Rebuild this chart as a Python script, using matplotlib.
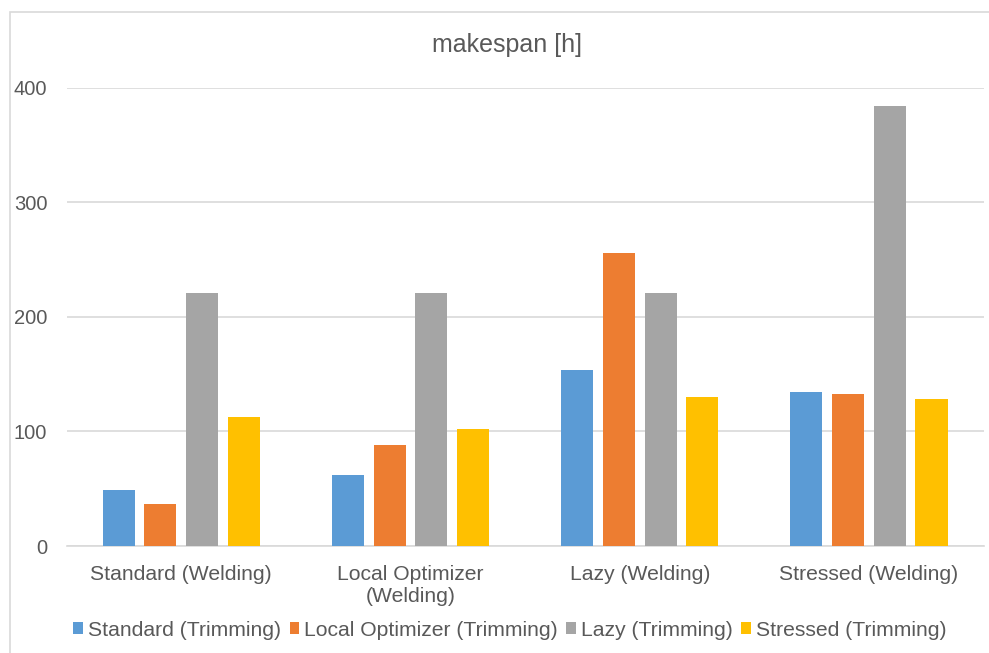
import matplotlib
matplotlib.use("Agg")
import matplotlib.pyplot as plt
from matplotlib.patches import Rectangle
import numpy as np

categories = ["Standard (Welding)", "Local Optimizer\n(Welding)", "Lazy (Welding)", "Stressed (Welding)"]
series_names = ["Standard (Trimming)", "Local Optimizer (Trimming)", "Lazy (Trimming)", "Stressed (Trimming)"]
standard_trim = [49, 62, 154, 134]
local_opt_trim = [37, 88, 256, 133]
lazy_trim = [221, 221, 221, 384]
stressed_trim = [113, 102, 130, 128]
colors = ["#5B9BD5", "#ED7D31", "#A5A5A5", "#FFC000"]
yticks = [0, 100, 200, 300, 400]

plt.rcParams['font.family'] = ['Liberation Sans', 'DejaVu Sans']
W, H = 989, 653
fig = plt.figure(figsize=(W/100, H/100), dpi=100)
fig.patch.set_facecolor("white")

# chart border
fig.patches.append(Rectangle((10/W, -0.1), 1.2, 1 - 12/H + 0.1, transform=fig.transFigure,
                             fill=False, edgecolor="#D9D9D9", linewidth=1.2, zorder=0))

left, right = 66.7/W, 983.5/W
bottom, top = 1 - 546/H, 1 - 87.7/H
ax = fig.add_axes([left, bottom, right-left, top-bottom])
ax.set_facecolor("none")

x = np.arange(len(categories)) + 0.5
width = 0.14
step = 0.182
data = [standard_trim, local_opt_trim, lazy_trim, stressed_trim]
for i, (vals, name, c) in enumerate(zip(data, series_names, colors)):
    ax.bar(x + (i - 1.5)*step, vals, width=width, color=c, label=name, zorder=3)

ax.set_xlim(0, len(categories))
ax.set_ylim(0, 400)
ax.set_yticks(yticks)
ax.set_yticklabels([str(t) for t in yticks])
ax.set_xticks(x)
ax.set_xticklabels(categories, linespacing=1.2)
ax.tick_params(axis='y', length=0, labelsize=14.5, colors="#595959", pad=14)
ax.tick_params(axis='x', length=0, labelsize=15.2, colors="#595959", pad=14)
ax.grid(axis='y', color="#D9D9D9", linewidth=1.2, zorder=0)
for s in ['top', 'right', 'left']:
    ax.spines[s].set_visible(False)
ax.spines['bottom'].set_color("#D9D9D9")
ax.spines['bottom'].set_linewidth(1.2)

fig.text(507/W, 1 - 45/H, "makespan [h]", ha='center', va='center', fontsize=18, color="#595959")

leg = fig.legend(loc='center', bbox_to_anchor=(510/W, 1 - 630/H), ncol=4, frameon=False,
                 fontsize=15.2, handlelength=0.45, handleheight=0.45, handletextpad=0.25,
                 columnspacing=0.4, borderpad=0)
for t in leg.get_texts():
    t.set_color("#595959")

fig.savefig("out.png", dpi=100, facecolor="white")
